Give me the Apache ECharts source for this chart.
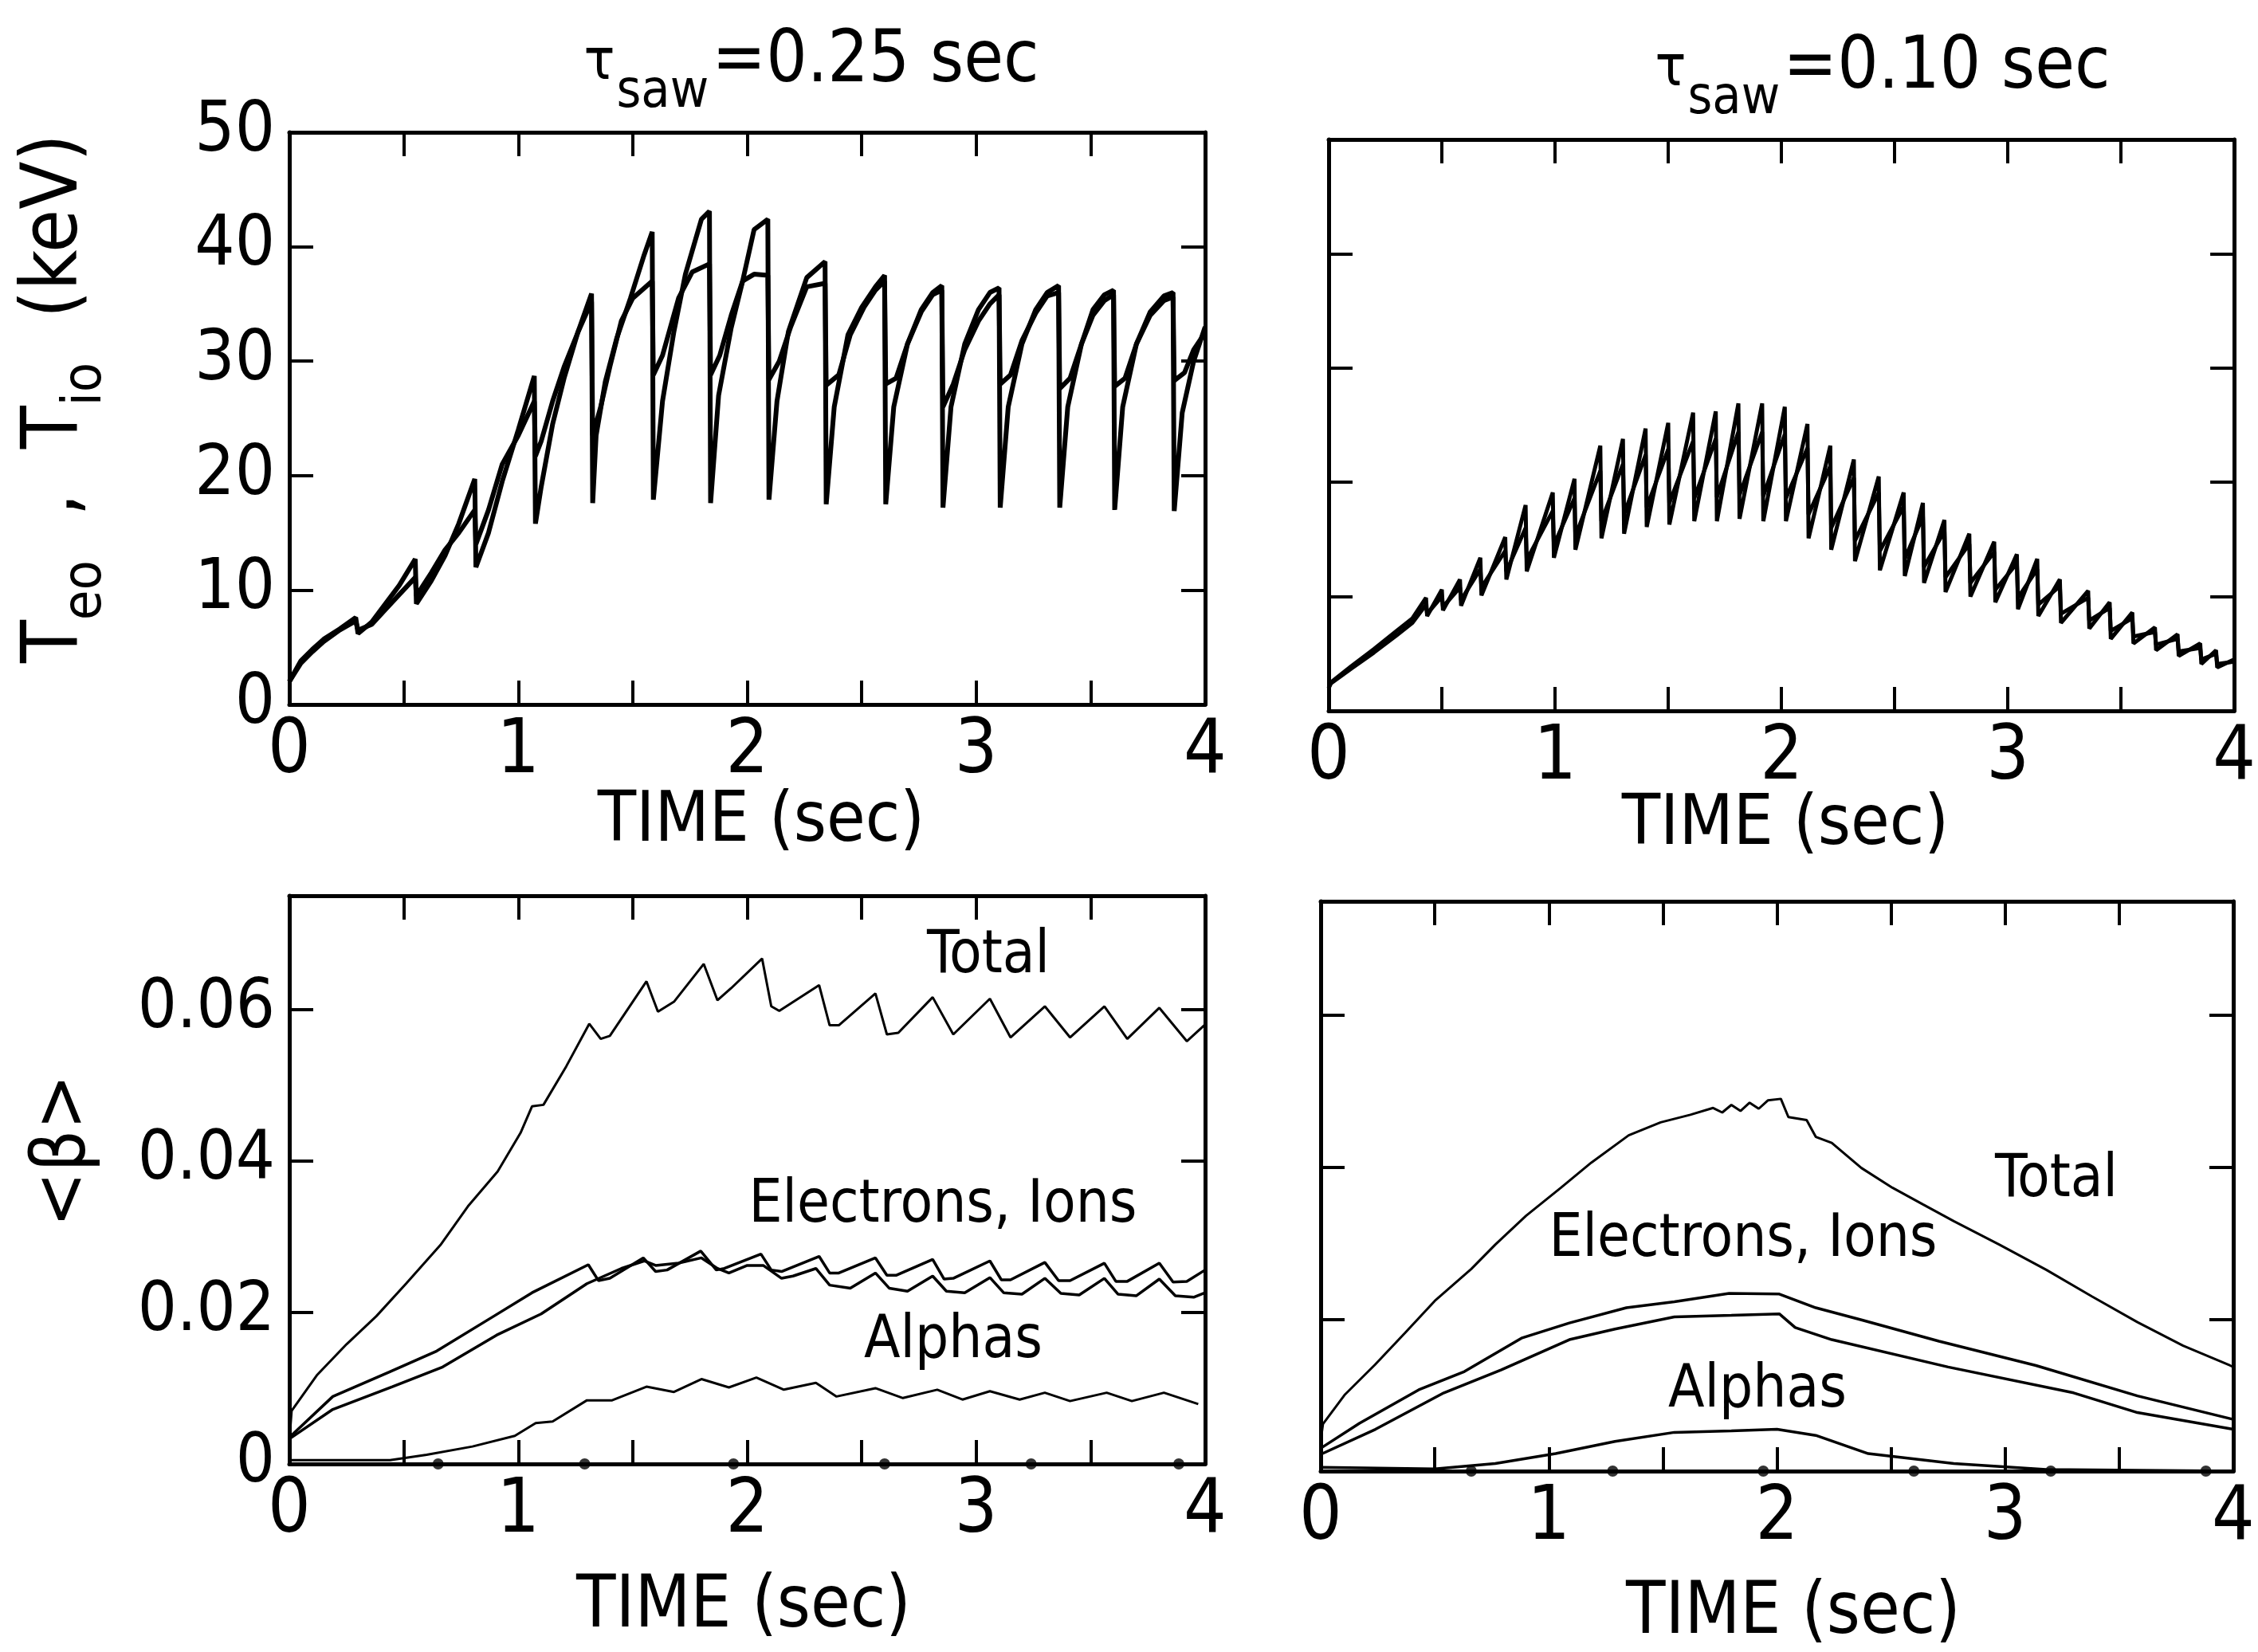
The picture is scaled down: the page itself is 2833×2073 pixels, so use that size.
<!DOCTYPE html>
<html><head><meta charset="utf-8">
<script src="https://cdn.jsdelivr.net/npm/echarts@6/dist/echarts.min.js"></script>
<style>html,body{margin:0;padding:0;background:#fff}#c{width:2833px;height:2073px}</style>
</head><body><div id="c"></div>
<script>
// ---------- DATA ----------
const timeTicks = [0, 1, 2, 3, 4];
// Top-left: tau_saw = 0.25 s  (T_e0 and T_i0 in keV)
const tlTe = [[0,2.0],[0.05,3.8],[0.10,4.8],[0.15,5.7],[0.22,6.6],[0.29,7.6],[0.30,6.2],[0.36,7.2],[0.42,8.8],[0.48,10.4],[0.55,12.7],[0.555,8.8],[0.62,10.8],[0.68,13.0],[0.74,15.8],[0.81,19.7],[0.815,12.0],[0.87,15.0],[0.93,19.5],[1.00,24.0],[1.07,28.7],[1.075,15.8],[1.10,19.0],[1.15,24.5],[1.20,28.5],[1.26,32.5],[1.32,35.9],[1.325,17.6],[1.34,23.5],[1.38,28.2],[1.43,32.0],[1.49,35.5],[1.55,39.3],[1.585,41.3],[1.59,17.9],[1.63,26.5],[1.68,32.6],[1.73,37.6],[1.80,42.4],[1.835,43.1],[1.84,17.6],[1.875,27.0],[1.93,32.9],[1.98,37.0],[2.03,41.5],[2.09,42.4],[2.095,17.9],[2.13,26.5],[2.18,32.6],[2.26,37.3],[2.34,38.7],[2.345,17.5],[2.38,26.0],[2.44,32.3],[2.50,34.7],[2.56,36.5],[2.60,37.5],[2.605,17.5],[2.64,26.0],[2.70,31.5],[2.76,34.5],[2.81,36.0],[2.85,36.6],[2.855,17.2],[2.89,26.0],[2.95,31.5],[3.01,34.5],[3.06,36.0],[3.10,36.4],[3.105,17.2],[3.14,26.0],[3.20,31.5],[3.26,34.5],[3.31,36.0],[3.36,36.6],[3.365,17.2],[3.40,26.0],[3.46,31.5],[3.51,34.5],[3.56,35.8],[3.60,36.2],[3.605,17.0],[3.64,26.0],[3.70,31.5],[3.76,34.3],[3.82,35.7],[3.86,36.0],[3.865,16.9],[3.90,25.5],[3.95,30.0],[4.00,33.0]];
const tlTi = [[0,2.0],[0.05,3.6],[0.10,4.6],[0.15,5.5],[0.22,6.5],[0.29,7.3],[0.30,6.5],[0.36,7.0],[0.42,8.3],[0.48,9.6],[0.55,11.1],[0.555,9.5],[0.62,11.5],[0.68,13.5],[0.74,15.0],[0.81,17.0],[0.815,14.0],[0.87,17.0],[0.93,21.0],[1.00,23.5],[1.07,26.5],[1.075,21.7],[1.10,23.0],[1.15,26.5],[1.20,29.5],[1.26,32.5],[1.32,35.2],[1.325,23.5],[1.36,26.0],[1.40,29.5],[1.45,33.5],[1.50,35.5],[1.585,37.0],[1.59,28.8],[1.63,30.5],[1.70,35.5],[1.76,37.8],[1.835,38.5],[1.84,28.8],[1.88,30.5],[1.93,34.0],[1.98,37.0],[2.03,37.6],[2.09,37.5],[2.095,28.4],[2.14,30.0],[2.19,33.0],[2.26,36.5],[2.34,36.8],[2.345,27.9],[2.40,28.8],[2.45,32.3],[2.51,34.7],[2.56,36.2],[2.60,37.0],[2.605,28.0],[2.65,28.5],[2.70,31.5],[2.76,34.3],[2.81,35.8],[2.85,36.2],[2.855,26.0],[2.90,28.0],[2.95,31.0],[3.01,33.5],[3.06,35.0],[3.10,35.8],[3.105,28.0],[3.15,28.8],[3.20,31.8],[3.26,34.2],[3.31,35.7],[3.36,36.0],[3.365,27.6],[3.41,28.5],[3.46,31.5],[3.51,34.0],[3.56,35.3],[3.60,35.8],[3.605,27.8],[3.65,28.5],[3.70,31.5],[3.76,34.0],[3.82,35.3],[3.86,35.6],[3.865,28.3],[3.91,29.0],[3.95,31.0],[4.00,32.5]];
// Top-right: tau_saw = 0.10 s
const trTe = [[0,2.0],[0.01,2.5],[0.10,3.9],[0.20,5.4],[0.30,7.0],[0.37,8.1],[0.43,9.9],[0.435,8.3],[0.50,10.6],[0.505,8.8],[0.58,11.5],[0.585,9.2],[0.67,13.4],[0.675,10.1],[0.78,15.2],[0.785,11.5],[0.87,18.0],[0.875,12.2],[0.99,19.1],[0.995,13.4],[1.086,20.3],[1.09,14.1],[1.20,23.2],[1.205,15.1],[1.30,23.8],[1.305,15.5],[1.40,24.7],[1.405,16.1],[1.50,25.2],[1.505,16.3],[1.61,26.1],[1.615,16.6],[1.71,26.2],[1.715,16.6],[1.81,26.9],[1.815,16.8],[1.915,26.9],[1.92,16.6],[2.015,26.6],[2.02,16.6],[2.115,25.1],[2.12,15.1],[2.216,23.2],[2.22,14.1],[2.32,22.0],[2.325,13.1],[2.43,20.5],[2.435,12.3],[2.54,19.1],[2.545,11.8],[2.625,18.2],[2.63,11.2],[2.72,16.7],[2.725,10.4],[2.83,15.5],[2.835,10.0],[2.94,14.8],[2.945,9.5],[3.04,13.7],[3.045,8.9],[3.13,13.3],[3.135,8.3],[3.23,11.5],[3.235,7.7],[3.355,10.5],[3.36,7.2],[3.45,9.5],[3.455,6.3],[3.55,8.6],[3.555,5.9],[3.65,7.3],[3.655,5.3],[3.75,6.7],[3.755,4.8],[3.85,5.9],[3.855,4.1],[3.92,5.3],[3.925,3.8],[4.0,4.5]];
const trTi = [[0,2.0],[0.01,2.4],[0.10,3.7],[0.20,5.1],[0.30,6.6],[0.37,7.7],[0.43,9.3],[0.435,8.5],[0.50,10.0],[0.505,9.1],[0.58,10.8],[0.585,9.7],[0.67,12.4],[0.675,10.8],[0.78,14.0],[0.785,12.2],[0.87,16.0],[0.875,13.2],[0.99,17.5],[0.995,14.5],[1.086,18.6],[1.09,15.3],[1.20,21.0],[1.205,16.6],[1.30,21.6],[1.305,17.2],[1.40,22.4],[1.405,17.8],[1.50,22.9],[1.505,18.2],[1.61,23.6],[1.615,18.6],[1.71,23.8],[1.715,18.7],[1.81,24.4],[1.815,18.9],[1.915,24.4],[1.92,18.8],[2.015,24.2],[2.02,18.6],[2.115,23.0],[2.12,17.2],[2.216,21.4],[2.22,16.0],[2.32,20.4],[2.325,14.9],[2.43,19.1],[2.435,14.0],[2.54,17.9],[2.545,13.3],[2.625,17.0],[2.63,12.6],[2.72,15.7],[2.725,11.7],[2.83,14.6],[2.835,11.2],[2.94,13.9],[2.945,10.6],[3.04,12.9],[3.045,9.9],[3.13,12.4],[3.135,9.3],[3.23,10.9],[3.235,8.5],[3.355,9.9],[3.36,7.9],[3.45,9.0],[3.455,7.0],[3.55,8.1],[3.555,6.5],[3.65,6.9],[3.655,5.8],[3.75,6.3],[3.755,5.2],[3.85,5.5],[3.855,4.5],[3.92,5.0],[3.925,4.1],[4.0,4.3]];
// Bottom-left: <beta>, tau_saw = 0.25 s
const blTotal = [[0,0.003],[0.01,0.007],[0.12,0.0117],[0.25,0.0158],[0.38,0.0195],[0.51,0.0238],[0.66,0.0289],[0.78,0.034],[0.91,0.0386],[1.01,0.0437],[1.06,0.0472],[1.11,0.0474],[1.21,0.0525],[1.31,0.0581],[1.36,0.0561],[1.40,0.0565],[1.56,0.0637],[1.61,0.0597],[1.68,0.061],[1.81,0.066],[1.87,0.0612],[1.93,0.0628],[2.065,0.0667],[2.105,0.0604],[2.14,0.0598],[2.314,0.0632],[2.36,0.0579],[2.40,0.0579],[2.56,0.0621],[2.61,0.0567],[2.66,0.0569],[2.81,0.0616],[2.90,0.0567],[3.06,0.0614],[3.15,0.0563],[3.30,0.0604],[3.41,0.0563],[3.56,0.0604],[3.66,0.0561],[3.80,0.0602],[3.92,0.0558],[4.0,0.058]];
const blElectrons = [[0,0.0035],[0.19,0.0089],[0.435,0.0121],[0.644,0.0149],[0.893,0.0195],[1.06,0.0226],[1.306,0.0263],[1.35,0.0242],[1.40,0.0245],[1.546,0.0272],[1.60,0.0254],[1.65,0.0256],[1.797,0.0281],[1.865,0.0256],[1.90,0.0258],[2.06,0.0277],[2.105,0.0256],[2.15,0.0254],[2.314,0.0274],[2.36,0.0252],[2.40,0.0252],[2.56,0.0272],[2.61,0.0249],[2.65,0.0249],[2.81,0.027],[2.86,0.0244],[2.90,0.0245],[3.06,0.0268],[3.11,0.0243],[3.15,0.0243],[3.30,0.0266],[3.36,0.0242],[3.41,0.0242],[3.56,0.0265],[3.61,0.0241],[3.66,0.0241],[3.80,0.0265],[3.86,0.024],[3.92,0.0241],[4.0,0.0256]];
const blIons = [[0,0.0033],[0.19,0.0072],[0.45,0.0102],[0.67,0.0128],[0.905,0.017],[1.10,0.0198],[1.30,0.0238],[1.45,0.0258],[1.55,0.0268],[1.60,0.0262],[1.70,0.0265],[1.80,0.0272],[1.87,0.0258],[1.92,0.0252],[2.00,0.0262],[2.07,0.0262],[2.15,0.0245],[2.20,0.0248],[2.30,0.0258],[2.36,0.0236],[2.45,0.0232],[2.56,0.0252],[2.62,0.0232],[2.70,0.0228],[2.81,0.0248],[2.87,0.0228],[2.95,0.0226],[3.06,0.0246],[3.12,0.0226],[3.20,0.0224],[3.30,0.0245],[3.37,0.0225],[3.45,0.0223],[3.56,0.0245],[3.62,0.0224],[3.70,0.0222],[3.80,0.0244],[3.87,0.0222],[3.95,0.022],[4.0,0.0226]];
const blAlphas = [[0,0.0005],[0.44,0.0005],[0.60,0.0012],[0.80,0.0023],[0.985,0.0037],[1.076,0.0054],[1.15,0.0056],[1.30,0.0084],[1.41,0.0084],[1.56,0.0102],[1.68,0.0095],[1.80,0.0112],[1.92,0.0101],[2.04,0.0114],[2.16,0.0098],[2.30,0.0107],[2.39,0.0089],[2.56,0.01],[2.68,0.0087],[2.83,0.0098],[2.94,0.0085],[3.06,0.0096],[3.19,0.0085],[3.30,0.0094],[3.41,0.0083],[3.57,0.0094],[3.68,0.0083],[3.82,0.0094],[3.97,0.0079]];
const blZeroDots = [[0.65,0],[1.29,0],[1.94,0],[2.60,0],[3.24,0],[3.885,0]];
// Bottom-right: <beta>, tau_saw = 0.10 s
const brTotal = [[0,0.004],[0.01,0.0062],[0.107,0.0101],[0.238,0.014],[0.37,0.0182],[0.50,0.0224],[0.66,0.0266],[0.765,0.0298],[0.90,0.0336],[1.053,0.0373],[1.186,0.0406],[1.35,0.0442],[1.49,0.0459],[1.62,0.0469],[1.72,0.0478],[1.76,0.0472],[1.80,0.0482],[1.84,0.0474],[1.88,0.0485],[1.92,0.0477],[1.96,0.0488],[2.017,0.049],[2.05,0.0466],[2.13,0.0462],[2.17,0.0440],[2.24,0.0432],[2.37,0.0399],[2.506,0.0373],[2.64,0.0351],[2.775,0.0329],[2.975,0.0298],[3.18,0.0265],[3.38,0.023],[3.58,0.0196],[3.78,0.0165],[3.986,0.0139],[4.0,0.0137]];
const brElectrons = [[0,0.003],[0.17,0.0063],[0.43,0.0107],[0.63,0.0131],[0.88,0.0175],[1.09,0.0195],[1.34,0.0215],[1.55,0.0223],[1.79,0.0234],[2.01,0.0233],[2.17,0.0215],[2.37,0.0199],[2.71,0.0171],[3.135,0.0139],[3.58,0.0099],[4.0,0.0068]];
const brIons = [[0,0.0022],[0.24,0.0055],[0.54,0.0103],[0.79,0.0133],[1.09,0.0173],[1.29,0.0187],[1.55,0.0203],[1.80,0.0205],[2.01,0.0207],[2.08,0.0189],[2.24,0.0173],[2.75,0.0137],[3.30,0.0103],[3.58,0.0077],[4.0,0.0055]];
const brAlphas = [[0,0.0005],[0.50,0.0003],[0.765,0.001],[1.03,0.0023],[1.29,0.0039],[1.55,0.0051],[1.80,0.0053],[2.0,0.0055],[2.17,0.0047],[2.40,0.0023],[2.775,0.001],[3.18,0.0002],[4.0,0.0]];
const brZeroDots = [[0.66,0],[1.28,0],[1.94,0],[2.60,0],[3.20,0],[3.88,0]];

// ---------- CHART ----------
const FONT = "'Liberation Sans Narrow','DejaVu Sans Condensed','Liberation Sans',sans-serif";
const grids = [
  {left:363, top:166, width:1149, height:718},
  {left:1667, top:175, width:1144, height:717},
  {left:363, top:1124, width:1149, height:713},
  {left:1657, top:1131, width:1145, height:715}
];
function xAx(g, pos, labels){
  return {type:'value', gridIndex:g, position:pos, min:0, max:4, interval:0.5,
    axisLine:{show:true, onZero:false, lineStyle:{color:'#000', width:5}},
    axisTick:{show:true, inside:true, length:30, lineStyle:{color:'#000', width:4}},
    axisLabel:{show:labels, margin:14, color:'#000', fontSize:94, fontFamily:FONT,
      formatter:v => timeTicks.includes(v) ? String(v) : ''},
    splitLine:{show:false}};
}
function yAx(g, pos, labels, max, interval, fmt, fs){
  return {type:'value', gridIndex:g, position:pos, min:0, max:max, interval:interval,
    axisLine:{show:true, onZero:false, lineStyle:{color:'#000', width:5}},
    axisTick:{show:true, inside:true, length:30, lineStyle:{color:'#000', width:4}},
    axisLabel:{show:labels, margin:18, color:'#000', fontSize:fs||86, fontFamily:FONT, formatter:fmt},
    splitLine:{show:false}};
}
const fmtT = v => String(v);
const fmtB = v => v === 0 ? '0' : (v > 0.07 ? '' : v.toFixed(2));
const xAxis = [], yAxis = [];
for (let g = 0; g < 4; g++){
  xAxis.push(xAx(g,'bottom',true));
  xAxis.push(xAx(g,'top',false));
}
yAxis.push(yAx(0,'left',true,50,10,fmtT,88));
yAxis.push(yAx(0,'right',false,50,10,fmtT));
yAxis.push(yAx(1,'left',false,50,10,fmtT));
yAxis.push(yAx(1,'right',false,50,10,fmtT));
yAxis.push(yAx(2,'left',true,0.075,0.02,fmtB,86));
yAxis.push(yAx(2,'right',false,0.075,0.02,fmtB));
yAxis.push(yAx(3,'left',false,0.075,0.02,fmtB));
yAxis.push(yAx(3,'right',false,0.075,0.02,fmtB));

function line(data, g, w){
  return {type:'line', data:data, xAxisIndex:2*g, yAxisIndex:2*g, showSymbol:false, symbol:'none',
    lineStyle:{color:'#000', width:w}, silent:true, animation:false};
}
function dots(data, g){
  return {type:'scatter', data:data, xAxisIndex:2*g, yAxisIndex:2*g, symbol:'circle', symbolSize:14,
    itemStyle:{color:'#000'}, silent:true, animation:false};
}
const series = [
  line(tlTe,0,6), line(tlTi,0,6),
  line(trTe,1,5), line(trTi,1,5),
  line(blTotal,2,3), line(blElectrons,2,3.5), line(blIons,2,3.5), line(blAlphas,2,3), dots(blZeroDots,2),
  line(brTotal,3,3), line(brElectrons,3,3.5), line(brIons,3,3.5), line(brAlphas,3,3.5), dots(brZeroDots,3)
];

function txt(x, y, text, size, extra){
  return Object.assign({type:'text', x:x, y:y, silent:true,
    style:Object.assign({text:text, fill:'#000', font:size+'px '+FONT, fontSize:size, fontFamily:FONT,
      align:'center', verticalAlign:'middle', textAlign:'center', textVerticalAlign:'middle'}, (extra&&extra.style)||{})},
    (extra&&extra.el)||{});
}
const richTitle = {
  m:{fontSize:90, fontFamily:FONT, fill:'#000', color:'#000', verticalAlign:'bottom', padding:[0,0,26,0]},
  g:{fontSize:72, fontFamily:FONT, fill:'#000', color:'#000', verticalAlign:'bottom', padding:[0,2,34,0]},
  s:{fontSize:66, fontFamily:FONT, fill:'#000', color:'#000', verticalAlign:'bottom', padding:[0,4,0,0]}
};
const richY = {
  m:{fontSize:98, fontFamily:FONT, fill:'#000', color:'#000', verticalAlign:'bottom', padding:[0,0,22,0]},
  s:{fontSize:68, fontFamily:FONT, fill:'#000', color:'#000', verticalAlign:'bottom', padding:[0,0,0,0]}
};
const LBL = 74;
const graphic = [
  txt(1018, 92, '{g|τ}{s|saw}{m|=0.25 sec}', 90, {style:{rich:richTitle}}),
  txt(2362, 100, '{g|τ}{s|saw}{m|=0.10 sec}', 90, {style:{rich:richTitle}}),
  txt(82, 500, '{m|T}{s|eo}{m|  ,  T}{s|io}{m|  (keV)}', 98, {style:{rich:richY}, el:{rotation:Math.PI/2}}),
  txt(82, 1444, '<β>', 92, {el:{rotation:Math.PI/2}}),
  txt(955, 1032, 'TIME (sec)', 88),
  txt(2240, 1036, 'TIME (sec)', 88),
  txt(933, 2018, 'TIME (sec)', 90),
  txt(2250, 2026, 'TIME (sec)', 90),
  txt(1240, 1201, 'Total', LBL),
  txt(1183, 1514, 'Electrons, Ions', LBL),
  txt(1196, 1684, 'Alphas', LBL),
  txt(2580, 1482, 'Total', LBL),
  txt(2187, 1557, 'Electrons, Ions', LBL),
  txt(2205, 1746, 'Alphas', LBL)
];

const chart = echarts.init(document.getElementById('c'), null, {renderer:'canvas', width:2833, height:2073});
chart.setOption({
  animation:false,
  backgroundColor:'#fff',
  grid:grids,
  xAxis:xAxis,
  yAxis:yAxis,
  series:series,
  graphic:graphic
});
</script>
</body></html>
